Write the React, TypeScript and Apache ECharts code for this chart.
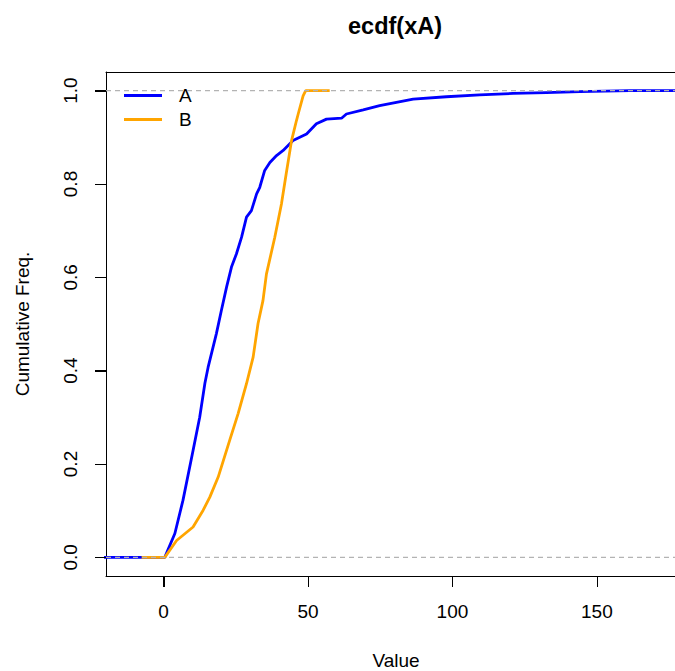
import React, { useEffect, useRef } from "react";
import * as echarts from "echarts";

const FONT = "'Liberation Sans', Arial, Helvetica, sans-serif";

const titleText = "ecdf(xA)";
const xAxisTitle = "Value";
const yAxisTitle = "Cumulative Freq.";
const seriesNames = ["A", "B"];

const xTicks = [0, 50, 100, 150];
const yTicks = [0, 0.2, 0.4, 0.6, 0.8, 1.0];

// ECDF of A
const xA = [-30, 0.4, 3.9, 6.7, 10.2, 12.5, 14.3, 15.4, 18.3, 20.0, 21.8, 23.5, 25.2, 27.0, 28.7, 30.4, 32.2, 33.3, 35.0, 36.8, 39.1, 41.4, 44.8, 49.5, 52.9, 56.4, 61.6, 63.3, 69.1, 74.8, 80.6, 86.4, 97.9, 109.4, 121.0, 132.5, 144.1, 161.4, 220];
const yA = [0, 0, 0.051, 0.122, 0.229, 0.3, 0.373, 0.407, 0.48, 0.529, 0.579, 0.622, 0.65, 0.686, 0.729, 0.743, 0.779, 0.793, 0.829, 0.846, 0.861, 0.872, 0.893, 0.907, 0.929, 0.939, 0.941, 0.95, 0.959, 0.968, 0.975, 0.982, 0.987, 0.991, 0.994, 0.996, 0.998, 1.0, 1.0];

// ECDF of B
const xB = [-7.6, 0.4, 4.5, 10.2, 13.7, 16.0, 18.9, 22.9, 25.8, 28.7, 31.0, 32.7, 34.4, 35.6, 38.5, 40.8, 42.5, 44.3, 46.0, 46.6, 48.3, 49.2, 57.5];
const yB = [0, 0, 0.036, 0.065, 0.101, 0.129, 0.172, 0.251, 0.308, 0.372, 0.429, 0.501, 0.55, 0.607, 0.686, 0.757, 0.824, 0.893, 0.936, 0.95, 0.989, 1.0, 1.0];

const refLevels = [0, 1];

const X_MIN = -19.94;
const X_MAX = 180.86;
const Y_MIN = -0.04;
const Y_MAX = 1.04;
const TICK_LEN = 11;

const GRID = { left: 106, top: 72, width: 580, height: 504 };

export default function App() {
  const ref = useRef<HTMLDivElement>(null);
  useEffect(() => {
    if (!ref.current) return;
    const chart = echarts.init(ref.current, null, { renderer: "svg" });
    const pairs = (xs: number[], ys: number[]) => xs.map((x, i) => [x, ys[i]]);
    const lineBlack = { color: "#000", width: 1 };
    chart.setOption({
      animation: false,
      backgroundColor: "#ffffff",
      textStyle: { fontFamily: FONT },
      grid: { ...GRID, show: false },
      legend: {
        data: seriesNames,
        orient: "vertical",
        left: 124,
        top: 86,
        padding: 0,
        itemGap: 5,
        icon: "rect",
        itemWidth: 38,
        itemHeight: 3,
        textStyle: { fontSize: 19, color: "#000", fontFamily: FONT, padding: [0, 0, 0, 12] },
      },
      xAxis: [
        {
          type: "value",
          position: "bottom",
          min: X_MIN,
          max: X_MAX,
          axisLine: { show: true, onZero: false, lineStyle: lineBlack },
          splitLine: { show: false },
          axisTick: {
            show: true,
            inside: false,
            length: TICK_LEN,
            customValues: xTicks,
            lineStyle: lineBlack,
          },
          axisLabel: {
            customValues: xTicks,
            fontSize: 19,
            color: "#000",
            fontFamily: FONT,
            margin: 26,
            formatter: (v: number) => String(v),
          },
        },
        {
          type: "value",
          position: "top",
          min: X_MIN,
          max: X_MAX,
          axisLine: { show: true, onZero: false, lineStyle: lineBlack },
          splitLine: { show: false },
          axisTick: { show: false },
          axisLabel: { show: false },
        },
      ],
      yAxis: {
        type: "value",
        min: Y_MIN,
        max: Y_MAX,
        axisLine: { show: true, onZero: false, lineStyle: lineBlack },
        splitLine: { show: false },
        axisTick: {
          show: true,
          inside: false,
          length: TICK_LEN,
          customValues: yTicks,
          lineStyle: lineBlack,
        },
        axisLabel: {
          customValues: yTicks,
          fontSize: 19,
          color: "#000",
          fontFamily: FONT,
          rotate: 90,
          margin: 26,
          formatter: (v: number) => v.toFixed(1),
        },
      },
      series: [
        {
          name: seriesNames[0],
          type: "line",
          data: pairs(xA, yA),
          showSymbol: false,
          symbol: "none",
          clip: true,
          color: "#0000ff",
          lineStyle: { color: "#0000ff", width: 2.8 },
          z: 2,
        },
        {
          name: seriesNames[1],
          type: "line",
          data: pairs(xB, yB),
          showSymbol: false,
          symbol: "none",
          clip: true,
          color: "#ffa500",
          lineStyle: { color: "#ffa500", width: 2.8 },
          z: 3,
        },
        ...refLevels.map((lv) => ({
          name: "ref" + lv,
          type: "line",
          data: [
            [X_MIN, lv],
            [X_MAX, lv],
          ],
          showSymbol: false,
          symbol: "none",
          silent: true,
          clip: true,
          lineStyle: { color: "#b3b3b3", width: 1.3, type: [5, 4] },
          z: 4,
        })),
      ],
      graphic: [
        {
          id: "title",
          type: "text",
          x: 395,
          y: 26,
          style: {
            text: titleText,
            fontSize: 23.5,
            fontWeight: "bold",
            fontFamily: FONT,
            fill: "#000",
            align: "center",
            verticalAlign: "middle",
          },
        },
        {
          id: "xname",
          type: "text",
          x: 396,
          y: 660,
          style: {
            text: xAxisTitle,
            fontSize: 19,
            fontFamily: FONT,
            fill: "#000",
            align: "center",
            verticalAlign: "middle",
          },
        },
        {
          id: "yname",
          type: "text",
          x: 22,
          y: 324,
          rotation: Math.PI / 2,
          style: {
            text: yAxisTitle,
            fontSize: 19,
            fontFamily: FONT,
            fill: "#000",
            align: "center",
            verticalAlign: "middle",
          },
        },
      ],
    });

    // extra tick marks, positioned through the axes' scales
    const xPx = (v: number): number => {
      const p = chart.convertToPixel({ xAxisIndex: 0 }, v) as any;
      return typeof p === "number" && isFinite(p)
        ? p
        : GRID.left + ((v - X_MIN) / (X_MAX - X_MIN)) * GRID.width;
    };
    const yPx = (v: number): number => {
      const p = chart.convertToPixel({ yAxisIndex: 0 }, v) as any;
      return typeof p === "number" && isFinite(p)
        ? p
        : GRID.top + ((Y_MAX - v) / (Y_MAX - Y_MIN)) * GRID.height;
    };
    const bottom = yPx(Y_MIN);
    const left = xPx(X_MIN);
    const tickEls: any[] = [];
    xTicks.forEach((t, i) => {
      const x = Math.round(xPx(t)) + 0.5;
      tickEls.push({
        id: "xt" + i,
        type: "line",
        silent: true,
        z: 100,
        shape: { x1: x, y1: Math.round(bottom), x2: x, y2: Math.round(bottom) + TICK_LEN },
        style: { stroke: "#000", lineWidth: 1 },
      });
    });
    yTicks.forEach((t, i) => {
      const y = Math.round(yPx(t)) + 0.5;
      tickEls.push({
        id: "yt" + i,
        type: "line",
        silent: true,
        z: 100,
        shape: { x1: Math.round(left) - TICK_LEN, y1: y, x2: Math.round(left), y2: y },
        style: { stroke: "#000", lineWidth: 1 },
      });
    });
    chart.setOption({ graphic: tickEls });

    return () => chart.dispose();
  }, []);
  return (
    <div
      style={{
        position: "absolute",
        left: 0,
        top: 0,
        width: 675,
        height: 671,
        overflow: "hidden",
      }}
    >
      <div ref={ref} style={{ width: 720, height: 671 }} />
    </div>
  );
}
